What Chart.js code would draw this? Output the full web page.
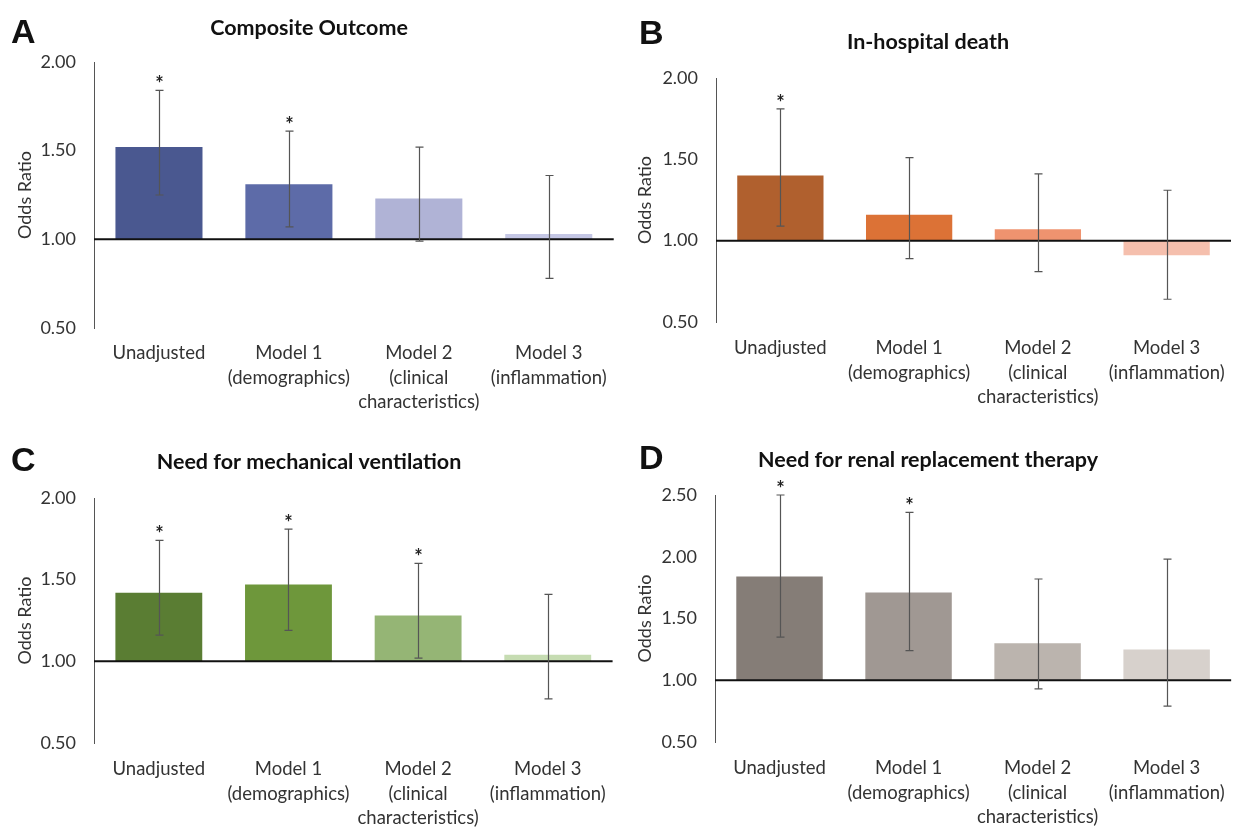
<!DOCTYPE html>
<html>
<head>
<meta charset="utf-8">
<script src="https://cdn.jsdelivr.net/npm/chart.js@4.4.1/dist/chart.umd.min.js"></script>
<style>
  html, body { margin: 0; padding: 0; background: #fff; }
  #wrap { position: relative; width: 1239px; height: 827px; overflow: hidden; background: #fff; }
  canvas { position: absolute; }
  .letter { position: absolute; font-family: "Liberation Sans", Arial, sans-serif; font-weight: bold; font-size: 34px; line-height: 34px; color: #111; }
</style>
</head>
<body>
<div id="wrap">
  <canvas id="cA" width="620" height="420" style="left:0;top:0"></canvas>
  <canvas id="cB" width="619" height="420" style="left:620px;top:0"></canvas>
  <canvas id="cC" width="620" height="407" style="left:0;top:420px"></canvas>
  <canvas id="cD" width="619" height="407" style="left:620px;top:420px"></canvas>
  <div class="letter" style="left:11px;top:14px">A</div>
  <div class="letter" style="left:639px;top:15px">B</div>
  <div class="letter" style="left:11px;top:442px">C</div>
  <div class="letter" style="left:639px;top:440px">D</div>
</div>
<script>
// ---------- DATA ----------
const categories = [
  ["Unadjusted"],
  ["Model 1", "(demographics)"],
  ["Model 2", "(clinical", "characteristics)"],
  ["Model 3", "(inflammation)"]
];
const panelTitles = ["Composite Outcome", "In-hospital death", "Need for mechanical ventilation", "Need for renal replacement therapy"];
const axisTitle = "Odds Ratio";
const yMinValues = [0.5, 0.5, 0.5, 0.5];
const yMaxValues = [2.0, 2.0, 2.0, 2.5];
const yStep = 0.5;

const compositeOR = [1.52, 1.31, 1.23, 1.03];
const compositeLo = [1.25, 1.07, 0.99, 0.78];
const compositeHi = [1.84, 1.61, 1.52, 1.36];
const compositeSig = [true, true, false, false];

const deathOR = [1.40, 1.16, 1.07, 0.91];
const deathLo = [1.09, 0.89, 0.81, 0.64];
const deathHi = [1.81, 1.51, 1.41, 1.31];
const deathSig = [true, false, false, false];

const ventOR = [1.42, 1.47, 1.28, 1.04];
const ventLo = [1.16, 1.19, 1.02, 0.77];
const ventHi = [1.74, 1.81, 1.60, 1.41];
const ventSig = [true, true, true, false];

const rrtOR = [1.84, 1.71, 1.30, 1.25];
const rrtLo = [1.35, 1.24, 0.93, 0.79];
const rrtHi = [2.50, 2.36, 1.82, 1.98];
const rrtSig = [true, true, false, false];

const compositeColors = ["#4a5890", "#5d6ba8", "#b0b3d6", "#c5c7e5"];
const deathColors = ["#b0602e", "#dc7236", "#ef936f", "#f5bfad"];
const ventColors = ["#5a7d33", "#6e973b", "#95b575", "#c6dcb2"];
const rrtColors = ["#857d77", "#a09893", "#bbb4ae", "#d7d1cc"];

// ---------- PLUGIN: reference line at 1.00, error bars, asterisks ----------
const errBarPlugin = {
  id: 'errbars',
  afterDatasetsDraw(chart, args, opts) {
    const { ctx, chartArea } = chart;
    const y = chart.scales.y;
    const meta = chart.getDatasetMeta(0);
    ctx.save();
    const y1 = y.getPixelForValue(1);
    ctx.strokeStyle = '#111';
    ctx.lineWidth = 2;
    ctx.beginPath();
    ctx.moveTo(chartArea.left, y1);
    ctx.lineTo(chartArea.right, y1);
    ctx.stroke();
    ctx.strokeStyle = '#555';
    ctx.lineWidth = 1.2;
    const cap = 4;
    opts.lo.forEach((lo, i) => {
      const bar = meta.data[i];
      const xc = Math.round(bar.x) + 0.5;
      const yl = y.getPixelForValue(lo);
      const yh = y.getPixelForValue(opts.hi[i]);
      ctx.beginPath();
      ctx.moveTo(xc, yl); ctx.lineTo(xc, yh);
      ctx.moveTo(xc - cap, yh); ctx.lineTo(xc + cap, yh);
      ctx.moveTo(xc - cap, yl); ctx.lineTo(xc + cap, yl);
      ctx.stroke();
      if (opts.sig[i]) {
        ctx.fillStyle = '#222';
        ctx.font = 'bold 20px Lato';
        ctx.textAlign = 'center';
        ctx.textBaseline = 'alphabetic';
        ctx.fillText('*', xc, yh + 1);
      }
    });
    ctx.restore();
  }
};

function makeChart(id, idx, values, lo, hi, sig, colors, geom) {
  const el = document.getElementById(id);
  new Chart(el, {
    type: 'bar',
    data: {
      labels: categories,
      datasets: [{
        data: values,
        base: 1,
        backgroundColor: colors,
        borderWidth: 0,
        categoryPercentage: 1.0,
        barPercentage: 0.67
      }]
    },
    plugins: [errBarPlugin],
    options: {
      responsive: false,
      animation: false,
      devicePixelRatio: 1,
      layout: { padding: { left: 0, right: geom.right, top: 0, bottom: 0 } },
      plugins: {
        legend: { display: false },
        tooltip: { enabled: false },
        title: {
          display: true,
          text: panelTitles[idx],
          color: '#111',
          font: { family: 'Lato', size: 21.5, weight: 'bold', lineHeight: 1.2 },
          padding: { top: geom.titleTop, bottom: geom.titleBottom }
        },
        errbars: { lo: lo, hi: hi, sig: sig }
      },
      scales: {
        x: {
          grid: { display: false, drawTicks: false },
          border: { display: false },
          ticks: {
            color: '#333',
            font: { family: 'Lato', size: 18.5, lineHeight: 1.33 },
            padding: geom.xPad,
            autoSkip: false,
            maxRotation: 0,
            minRotation: 0
          },
          afterFit(scale) { scale.height = geom.xHeight; }
        },
        y: {
          min: yMinValues[idx],
          max: yMaxValues[idx],
          grid: { display: false, drawTicks: false },
          border: { display: true, color: '#555', width: 1 },
          ticks: {
            stepSize: yStep,
            color: '#333',
            font: { family: 'Lato', size: 18 },
            padding: 18,
            callback: (v) => Number(v).toFixed(2)
          },
          title: {
            display: true,
            text: axisTitle,
            color: '#333',
            font: { family: 'Lato', size: 18, lineHeight: 1.2 },
            padding: { top: 14, bottom: 0 }
          },
          afterFit(scale) { scale.width = geom.yWidth; }
        }
      }
    }
  });
}

function geomFor(canvasH, titleCenter, chartTop, chartBottom, axisX, right, xPad) {
  const lh = 21.5 * 1.2;
  return {
    titleTop: titleCenter - lh / 2,
    titleBottom: chartTop - titleCenter - lh / 2,
    xHeight: canvasH - chartBottom,
    yWidth: axisX,
    right: right,
    xPad: xPad
  };
}

makeChart('cA', 0, compositeOR, compositeLo, compositeHi, compositeSig, compositeColors, geomFor(420, 28, 62, 328, 94, 2, 13));
makeChart('cB', 1, deathOR, deathLo, deathHi, deathSig, deathColors, geomFor(420, 42, 78, 322, 96, 3, 14));
makeChart('cC', 2, ventOR, ventLo, ventHi, ventSig, ventColors, geomFor(407, 42, 78, 323, 94, 2, 14));
makeChart('cD', 3, rrtOR, rrtLo, rrtHi, rrtSig, rrtColors, geomFor(407, 40, 75, 322, 95, 3, 14));
</script>
</body>
</html>
